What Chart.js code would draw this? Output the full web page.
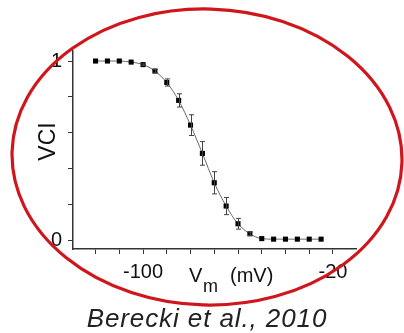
<!DOCTYPE html>
<html>
<head>
<meta charset="utf-8">
<script src="https://cdn.jsdelivr.net/npm/chart.js@4/dist/chart.umd.min.js"></script>
<style>
  html, body { margin: 0; padding: 0; background: #fff; overflow: hidden; }
  #wrap { position: relative; width: 404px; height: 333px; }
  #c { position: absolute; left: 0; top: 0; }
  #caption {
    position: absolute; left: 0; width: 414px; top: 305px; text-align: center;
    font: italic 26px "Liberation Sans", Arial, sans-serif; line-height: 26px;
    letter-spacing: 0.9px; color: #222; white-space: nowrap;
  }
</style>
</head>
<body>
<div id="wrap">
  <canvas id="c" width="404" height="333"></canvas>
  <div id="caption">Berecki et al., 2010</div>
</div>
<script>
// ---- data ----
const voltages = [-120, -115, -110, -105, -100, -95, -90, -85, -80, -75, -70, -65, -60, -55, -50, -45, -40, -35, -30, -25];
const vciValues = [1.0, 1.0, 1.0, 0.994, 0.98, 0.944, 0.88, 0.78, 0.642, 0.484, 0.32, 0.19, 0.091, 0.035, 0.008, 0.005, 0.005, 0.005, 0.005, 0.005];
const vciErrors = [0, 0, 0, 0, 0.004, 0.01, 0.02, 0.037, 0.058, 0.066, 0.062, 0.048, 0.03, 0.01, 0, 0, 0, 0, 0, 0];
const xTickValues = [-120, -110, -100, -90, -80, -70, -60, -50, -40, -30, -20];
const xTickLabels = { '-100': '-100', '-20': '-20' };
const yTickValues = [0, 0.2, 0.4, 0.6, 0.8, 1];
const yTickLabels = { '0': '0', '1': '1' };
const xTitleMain = 'V';
const xTitleSub = 'm';
const xTitleRest = '(mV)';
const yTitle = 'VCI';

const FONT = '"Liberation Sans", Arial, sans-serif';

const points = voltages.map((v, i) => ({ x: v, y: vciValues[i] }));

const decorPlugin = {
  id: 'decor',
  afterDatasetsDraw(chart) {
    const ctx = chart.ctx;
    const xs = chart.scales.x, ys = chart.scales.y;
    // error bars
    ctx.save();
    ctx.strokeStyle = '#444';
    ctx.lineWidth = 1;
    voltages.forEach((v, i) => {
      const e = vciErrors[i];
      if (!e) return;
      const px = Math.round(xs.getPixelForValue(v)) + 0.5;
      const top = ys.getPixelForValue(vciValues[i] + e);
      const bot = ys.getPixelForValue(vciValues[i] - e);
      ctx.beginPath();
      ctx.moveTo(px, top); ctx.lineTo(px, bot);
      ctx.moveTo(px - 2.5, top); ctx.lineTo(px + 2.5, top);
      ctx.moveTo(px - 2.5, bot); ctx.lineTo(px + 2.5, bot);
      ctx.stroke();
    });
    ctx.restore();
  },
  afterDraw(chart) {
    const ctx = chart.ctx;
    ctx.save();
    // x axis title with subscript
    ctx.fillStyle = '#111';
    ctx.textBaseline = 'alphabetic';
    ctx.textAlign = 'left';
    ctx.font = '20px ' + FONT;
    ctx.fillText(xTitleMain, 189, 282);
    ctx.font = '18px ' + FONT;
    ctx.fillText(xTitleSub, 203, 292);
    ctx.font = '20px ' + FONT;
    ctx.fillText(xTitleRest, 230, 282);
    // y axis title
    ctx.save();
    ctx.translate(48.5, 141.5);
    ctx.rotate(-Math.PI / 2);
    ctx.textAlign = 'center';
    ctx.textBaseline = 'middle';
    ctx.font = '23px ' + FONT;
    ctx.fillText(yTitle, 0, 0);
    ctx.restore();
    // red ellipse
    ctx.beginPath();
    ctx.strokeStyle = '#d0161c';
    ctx.lineWidth = 3.2;
    ctx.ellipse(207, 157, 195, 148, 0.028, 0, Math.PI * 2);
    ctx.stroke();
    ctx.restore();
  }
};

new Chart(document.getElementById('c'), {
  type: 'line',
  data: {
    datasets: [{
      data: points,
      borderColor: '#6a6a6a',
      borderWidth: 1,
      cubicInterpolationMode: 'monotone',
      pointStyle: 'rect',
      pointRadius: 3.6,
      pointBackgroundColor: '#000',
      pointBorderColor: '#000',
      pointBorderWidth: 0,
      fill: false
    }]
  },
  options: {
    responsive: false,
    animation: false,
    devicePixelRatio: 1,
    layout: { padding: { left: 0, right: 48, top: 51, bottom: 0 } },
    plugins: { legend: { display: false }, tooltip: { enabled: false } },
    scales: {
      x: {
        type: 'linear',
        min: -129.5,
        max: -10.3,
        afterBuildTicks: s => { s.ticks = xTickValues.map(v => ({ value: v })); },
        afterFit: s => { s.height = 84; },
        grid: { drawOnChartArea: false, drawTicks: true, tickLength: 5, color: '#333', lineWidth: 1 },
        border: { display: true, color: '#333', width: 1.5 },
        ticks: {
          autoSkip: false, maxRotation: 0, padding: 6,
          color: '#111', font: { family: FONT, size: 20 },
          callback: v => xTickLabels[String(v)] || ''
        }
      },
      y: {
        type: 'linear',
        min: -0.05,
        max: 1.056,
        afterBuildTicks: s => { s.ticks = yTickValues.map(v => ({ value: v })); },
        afterFit: s => { s.width = 73; },
        grid: { drawOnChartArea: false, drawTicks: true, tickLength: 5, color: '#333', lineWidth: 1 },
        border: { display: true, color: '#333', width: 1.5 },
        ticks: {
          autoSkip: false, padding: 6,
          color: '#111', font: { family: FONT, size: 20 },
          callback: v => yTickLabels[String(v)] || ''
        }
      }
    }
  },
  plugins: [decorPlugin]
});
</script>
</body>
</html>
